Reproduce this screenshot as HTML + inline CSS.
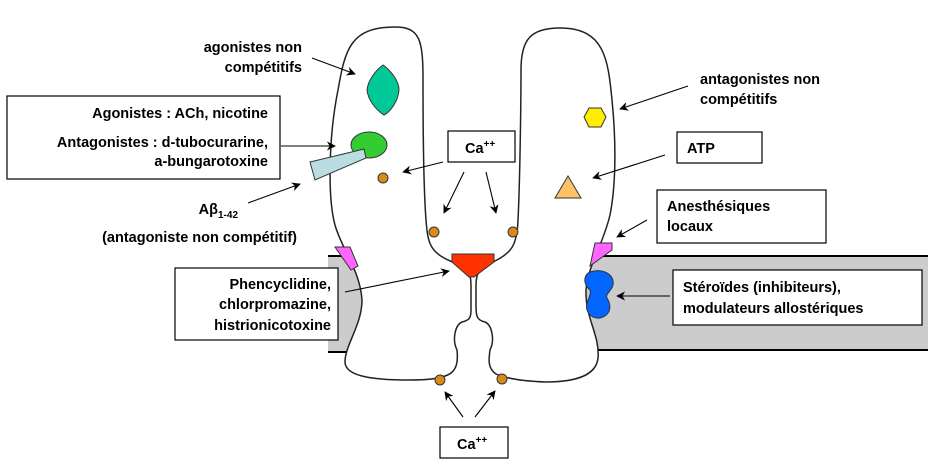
<!DOCTYPE html>
<html><head><meta charset="utf-8"><style>
body{margin:0;background:#fff;width:928px;height:468px;overflow:hidden}
svg{display:block}
text{font-family:"Liberation Sans",Arial,sans-serif;font-weight:bold;font-size:14.5px;fill:#000}
</style></head><body>
<svg width="928" height="468" viewBox="0 0 928 468">
<defs><marker id="a" viewBox="0 0 10 10" refX="9" refY="5" markerWidth="9" markerHeight="9" orient="auto" markerUnits="userSpaceOnUse"><path d="M0,0 L10,5 L0,10 L3,5 Z" fill="#000"/></marker></defs>
<rect x="328" y="256" width="40" height="96" fill="#cccccc"/>
<line x1="328" y1="256" x2="368" y2="256" stroke="#000" stroke-width="2"/>
<line x1="328" y1="352" x2="368" y2="352" stroke="#000" stroke-width="2"/>
<rect x="580" y="256" width="348" height="94" fill="#cccccc"/>
<line x1="580" y1="256" x2="928" y2="256" stroke="#000" stroke-width="2"/>
<line x1="580" y1="350" x2="928" y2="350" stroke="#000" stroke-width="2"/>
<path d="M395,27 C350,27 345,50 338,90 C328,140 328,200 335,225 C342,250 360,270 362,300 C362,325 345,345 345,362 C345,378 380,380 410,380 C430,380 440,378 445,376 C458,372 458,360 457,350 C452,340 455,325 462,322 C472,320 471,315 471,305 L471,285 C471,270 466,268 455,263 C430,253 428,245 426,220 C423,180 423,120 423,80 C423,40 420,27 395,27 Z" fill="#fff" stroke="#222" stroke-width="1.5"/>
<path d="M560,28 C605,28 608,60 612,100 C617,150 615,190 610,215 C603,245 588,265 586,290 C585,318 600,335 598,358 C596,378 570,382 545,382 C520,381 505,378 496,374 C487,368 489,358 490,350 C495,340 492,325 485,322 C476,320 476,315 476,305 L476,285 C476,270 482,266 493,262 C512,253 517,245 518,220 C520,180 521,100 521,70 C521,40 530,28 560,28 Z" fill="#fff" stroke="#222" stroke-width="1.5"/>
<path d="M383,65 C390,70 399,80 399,90 C398,102 390,112 384,115 C376,110 368,100 367,90 C368,80 376,70 383,65 Z" fill="#00c896" stroke="#333"/>
<ellipse cx="369" cy="145" rx="18" ry="13" fill="#33cc33" stroke="#333"/>
<polygon points="310,162 364,149 366,158 315,180" fill="#b9dde0" stroke="#333"/>
<circle cx="383" cy="178" r="5" fill="#d98a1a" stroke="#333"/>
<circle cx="434" cy="232" r="5" fill="#d98a1a" stroke="#333"/>
<circle cx="513" cy="232" r="5" fill="#d98a1a" stroke="#333"/>
<circle cx="440" cy="380" r="5" fill="#d98a1a" stroke="#333"/>
<circle cx="502" cy="379" r="5" fill="#d98a1a" stroke="#333"/>
<polygon points="452,254 494,254 494,262 474,277 469,277 452,262" fill="#ff3300" stroke="#333"/>
<polygon points="584,117 589,108 601,108 606,117 601,127 589,127" fill="#ffee00" stroke="#333"/>
<polygon points="555,198 568,176 581,198" fill="#ffc266" stroke="#333"/>
<polygon points="335,247 350,247 358,266 351,270" fill="#ff66ff" stroke="#333"/>
<polygon points="595,243 612,243 612,250 590,266" fill="#ff66ff" stroke="#333"/>
<path d="M590,272 C602,268 615,274 613,285 C611,292 605,294 607,298 C612,306 611,315 600,318 C590,319 585,311 587,303 C589,296 593,292 588,288 C583,282 584,275 590,272 Z" fill="#0066ff" stroke="#333"/>
<g fill="#fff" stroke="#000" stroke-width="1.2">
<rect x="7" y="96" width="273" height="83"/>
<rect x="175" y="268" width="163" height="72"/>
<rect x="448" y="131" width="67" height="31"/>
<rect x="440" y="427" width="68" height="31"/>
<rect x="677" y="132" width="85" height="31"/>
<rect x="657" y="190" width="169" height="53"/>
<rect x="673" y="270" width="249" height="55"/>
</g>
<g stroke="#000" stroke-width="1.1" fill="none" marker-end="url(#a)">
<line x1="312" y1="58" x2="355" y2="74"/>
<line x1="281" y1="146" x2="335" y2="146"/>
<line x1="248" y1="203" x2="300" y2="184"/>
<line x1="443" y1="162" x2="403" y2="172"/>
<line x1="464" y1="172" x2="444" y2="213"/>
<line x1="486" y1="172" x2="496" y2="213"/>
<line x1="345" y1="292" x2="449" y2="271"/>
<line x1="463" y1="417" x2="445" y2="392"/>
<line x1="475" y1="417" x2="495" y2="391"/>
<line x1="688" y1="86" x2="620" y2="109"/>
<line x1="665" y1="155" x2="593" y2="178"/>
<line x1="647" y1="220" x2="617" y2="237"/>
<line x1="670" y1="296" x2="617" y2="296"/>
</g>
<text x="302" y="52" text-anchor="end">agonistes non</text>
<text x="302" y="72" text-anchor="end">compétitifs</text>
<text x="268" y="118" text-anchor="end">Agonistes : ACh, nicotine</text>
<text x="268" y="147" text-anchor="end">Antagonistes : d-tubocurarine,</text>
<text x="268" y="166" text-anchor="end">a-bungarotoxine</text>
<text x="238" y="214" text-anchor="end">Aβ<tspan font-size="10" dy="4">1-42</tspan></text>
<text x="297" y="242" text-anchor="end">(antagoniste non compétitif)</text>
<text x="331" y="289" text-anchor="end">Phencyclidine,</text>
<text x="331" y="309" text-anchor="end">chlorpromazine,</text>
<text x="331" y="330" text-anchor="end">histrionicotoxine</text>
<text x="465" y="153">Ca<tspan font-size="10" dy="-6">++</tspan></text>
<text x="457" y="449">Ca<tspan font-size="10" dy="-6">++</tspan></text>
<text x="700" y="84">antagonistes non</text>
<text x="700" y="104">compétitifs</text>
<text x="687" y="153">ATP</text>
<text x="667" y="211">Anesthésiques</text>
<text x="667" y="231">locaux</text>
<text x="683" y="292">Stéroïdes (inhibiteurs),</text>
<text x="683" y="313">modulateurs allostériques</text>
</svg>
</body></html>
